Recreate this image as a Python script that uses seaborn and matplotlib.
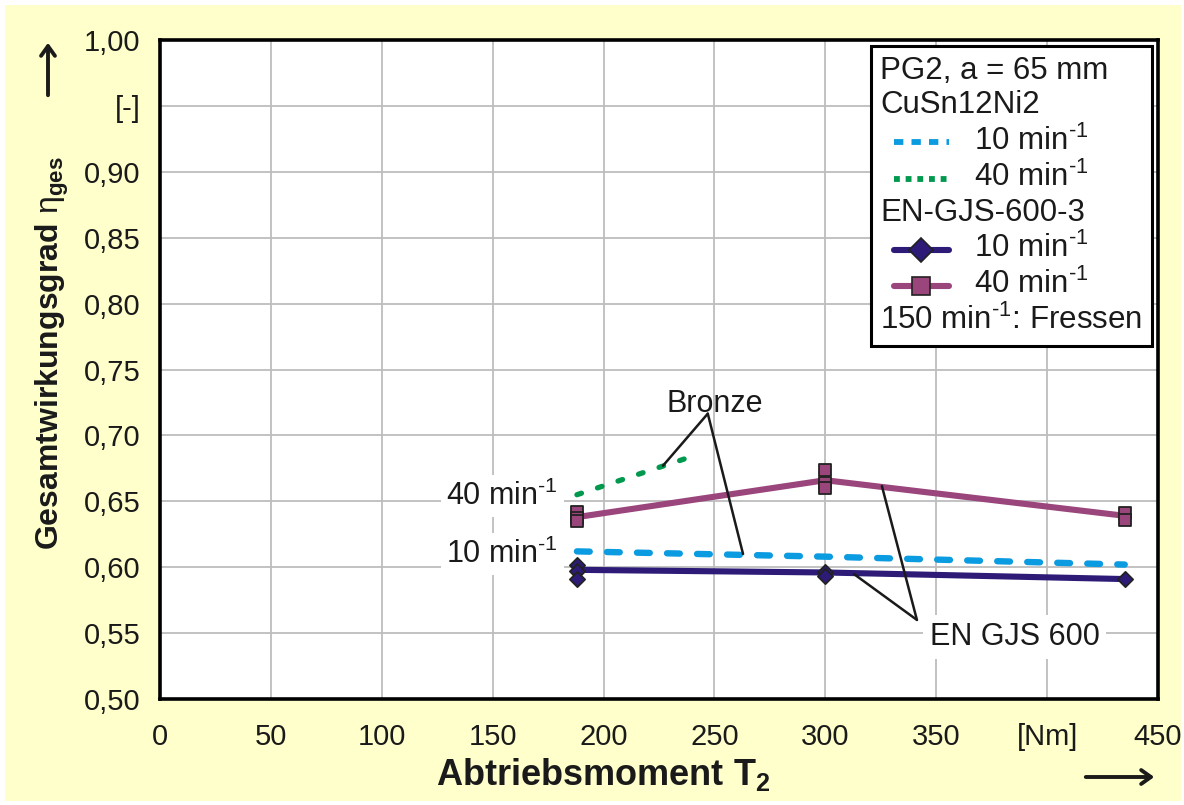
import matplotlib
matplotlib.use("Agg")
import matplotlib.pyplot as plt
import seaborn as sns
from matplotlib.lines import Line2D
from matplotlib.patches import Rectangle, FancyArrowPatch
from matplotlib.offsetbox import AnchoredOffsetbox, VPacker, HPacker, TextArea, DrawingArea

# ---- measured efficiencies -------------------------------------------------
# EN-GJS-600-3 wheel, mean curves
gjs_torque = [188, 300, 435]
gjs10_mean = [0.598, 0.596, 0.591]
gjs40_mean = [0.638, 0.666, 0.639]

# EN-GJS-600-3 wheel, single measurements
gjs10_pts_x = [188, 188, 188, 300, 300, 435]
gjs10_pts_y = [0.602, 0.597, 0.591, 0.596, 0.593, 0.591]
gjs40_pts_x = [188, 188, 188, 300, 300, 300, 435, 435]
gjs40_pts_y = [0.642, 0.637, 0.635, 0.674, 0.664, 0.660, 0.641, 0.636]

# CuSn12Ni2 bronze reference curves
bronze10_x = [188, 300, 435]
bronze10_y = [0.612, 0.608, 0.602]
bronze40_x = [188, 238]
bronze40_y = [0.655, 0.683]

# axis ticks
y_ticks = [0.50, 0.55, 0.60, 0.65, 0.70, 0.75, 0.80, 0.85, 0.90, 0.95, 1.00]
y_labels = ["0,50", "0,55", "0,60", "0,65", "0,70", "0,75", "0,80", "0,85", "0,90", "[-]", "1,00"]
x_ticks = [0, 50, 100, 150, 200, 250, 300, 350, 400, 450]
x_labels = ["0", "50", "100", "150", "200", "250", "300", "350", "[Nm]", "450"]

# ---- style -------------------------------------------------------------------
sns.set_style("white")
plt.rcParams["font.family"] = ["Liberation Sans", "DejaVu Sans"]
plt.rcParams["mathtext.fontset"] = "custom"
plt.rcParams["mathtext.rm"] = "Liberation Sans"
plt.rcParams["mathtext.it"] = "Liberation Sans:italic"
plt.rcParams["mathtext.bf"] = "Liberation Sans:bold"

NAVY = "#2D1B77"
PLUM = "#9A457B"
BLUE = "#0A9BE0"
GREEN = "#00994D"
EDGE = "#222222"
TXT = "#1a1a1a"
PER_MIN = r"min$^{\text{-1}}$"

W, H = 1184, 805
fig = plt.figure(figsize=(W / 100, H / 100), dpi=100)
fig.patch.set_facecolor("white")
fig.add_artist(Rectangle((5 / W, 4 / H), 1176 / W, 796 / H, transform=fig.transFigure,
                         facecolor="#FFFFCC", edgecolor="none", zorder=0))

ax = fig.add_axes([160 / W, (H - 699) / H, 998 / W, 659 / H])
ax.set_facecolor("white")

# ---- curves ------------------------------------------------------------------
sns.lineplot(x=bronze10_x, y=bronze10_y, ax=ax, color=BLUE, lw=4.6,
             linestyle=(0, (2.0, 2.7)), dash_capstyle="round", zorder=3)
sns.lineplot(x=bronze40_x, y=bronze40_y, ax=ax, color=GREEN, lw=3.8,
             linestyle=(0, (0.9, 3.2)), dash_capstyle="round", zorder=3)
sns.lineplot(x=gjs_torque, y=gjs40_mean, ax=ax, color=PLUM, lw=4.4, zorder=3)
sns.lineplot(x=gjs_torque, y=gjs10_mean, ax=ax, color=NAVY, lw=4.4, zorder=3)
sns.scatterplot(x=gjs40_pts_x, y=gjs40_pts_y, ax=ax, marker="s", s=80,
                color=PLUM, edgecolor=EDGE, linewidth=1.3, zorder=4)
sns.scatterplot(x=gjs10_pts_x, y=gjs10_pts_y, ax=ax, marker="D", s=60,
                color=NAVY, edgecolor=EDGE, linewidth=1.3, zorder=4)

# ---- axes --------------------------------------------------------------------
ax.set_xlim(0, 450)
ax.set_ylim(0.5, 1.0)
ax.set_xticks(x_ticks)
ax.set_xticklabels(x_labels)
ax.set_yticks(y_ticks)
ax.set_yticklabels(y_labels)
ax.grid(True, color="#BDBDBD", lw=1.3)
ax.set_axisbelow(True)
for sp in ax.spines.values():
    sp.set_color("black")
    sp.set_linewidth(2.6)
ax.tick_params(axis="both", direction="out", length=8, width=1.4, color="#333333",
               labelsize=21, labelcolor=TXT, pad=6)
ax.tick_params(axis="x", pad=9)

ax.set_xlabel(r"Abtriebsmoment T$_\mathbf{2}$", fontsize=26, fontweight="bold", color=TXT)
ax.xaxis.set_label_coords(0.444, -0.115)
ax.xaxis.label.set_va("center")
ax.set_ylabel(r"Gesamtwirkungsgrad $\mathrm{\eta}_{\mathbf{ges}}$", fontsize=23,
              fontweight="bold", color=TXT)
ax.yaxis.set_label_coords(-0.108, 0.525)
ax.yaxis.label.set_va("center")

# direction arrows next to the axis titles
for p0, p1 in [((48, H - 98), (48, H - 40)), ((1083, H - 777), (1157, H - 777))]:
    fig.add_artist(FancyArrowPatch(p0, p1, transform=None,
                                   arrowstyle="->,head_length=7,head_width=5",
                                   lw=2.8, color=TXT, mutation_scale=1))

# ---- annotations -------------------------------------------------------------
lead = dict(arrowstyle="-", lw=1.8, color=TXT, shrinkA=0, shrinkB=0)
ax.text(250.2, 0.7178, "Bronze", fontsize=22, ha="center", va="baseline", color=TXT, zorder=6)
for end in [(226.8, 0.677), (262.9, 0.610)]:
    ax.annotate("", xy=end, xytext=(247.0, 0.7165), arrowprops=lead, zorder=5)

ax.text(385.3, 0.541, "EN GJS 600", fontsize=22, ha="center", va="baseline", color=TXT,
        zorder=2.5, bbox=dict(facecolor="white", edgecolor="none", pad=5))
for end in [(312.9, 0.5948), (325.5, 0.6616)]:
    ax.annotate("", xy=end, xytext=(341.3, 0.560), arrowprops=lead, zorder=5)

for yv, s in [(0.6472, "40 " + PER_MIN), (0.6032, "10 " + PER_MIN)]:
    ax.text(179.5, yv, s, fontsize=22, ha="right", va="baseline", color=TXT, zorder=2.5,
            bbox=dict(facecolor="white", edgecolor="none", pad=4))

# ---- legend box --------------------------------------------------------------
FS = 22.5


def txt(s):
    return TextArea(s, textprops=dict(fontsize=FS, color=TXT))


def item(label, **kw):
    da = DrawingArea(50, 14, 0, 0)
    da.add_artist(Line2D([10, 29.5, 49], [6, 6, 6], markevery=[1], **kw))
    return HPacker(children=[da, txt(label)], align="center", pad=0, sep=17)


rows = [
    txt("PG2, a = 65 mm"),
    txt("CuSn12Ni2"),
    item("10 " + PER_MIN, color=BLUE, lw=4.2, linestyle=(0, (1.6, 1.4)), dash_capstyle="butt"),
    item("40 " + PER_MIN, color=GREEN, lw=4.2, linestyle=(0, (1.0, 1.0)), dash_capstyle="butt"),
    txt("EN-GJS-600-3"),
    item("10 " + PER_MIN, color=NAVY, lw=4.4, marker="D", markersize=12,
         markerfacecolor=NAVY, markeredgecolor=EDGE, markeredgewidth=1.2),
    item("40 " + PER_MIN, color=PLUM, lw=4.4, marker="s", markersize=13,
         markerfacecolor=PLUM, markeredgecolor=EDGE, markeredgewidth=1.2),
    txt("150 " + PER_MIN + ": Fressen"),
]
box = VPacker(children=rows, align="left", pad=0, sep=3.5)
anch = AnchoredOffsetbox(loc="upper right", child=box, pad=0.3, borderpad=0.2,
                         frameon=True, prop=dict(size=FS))
anch.patch.set_boxstyle("square,pad=0")
anch.patch.set_edgecolor("black")
anch.patch.set_linewidth(2.2)
anch.patch.set_facecolor("white")
anch.set_zorder(7)
ax.add_artist(anch)

fig.savefig("out.png", dpi=100)
